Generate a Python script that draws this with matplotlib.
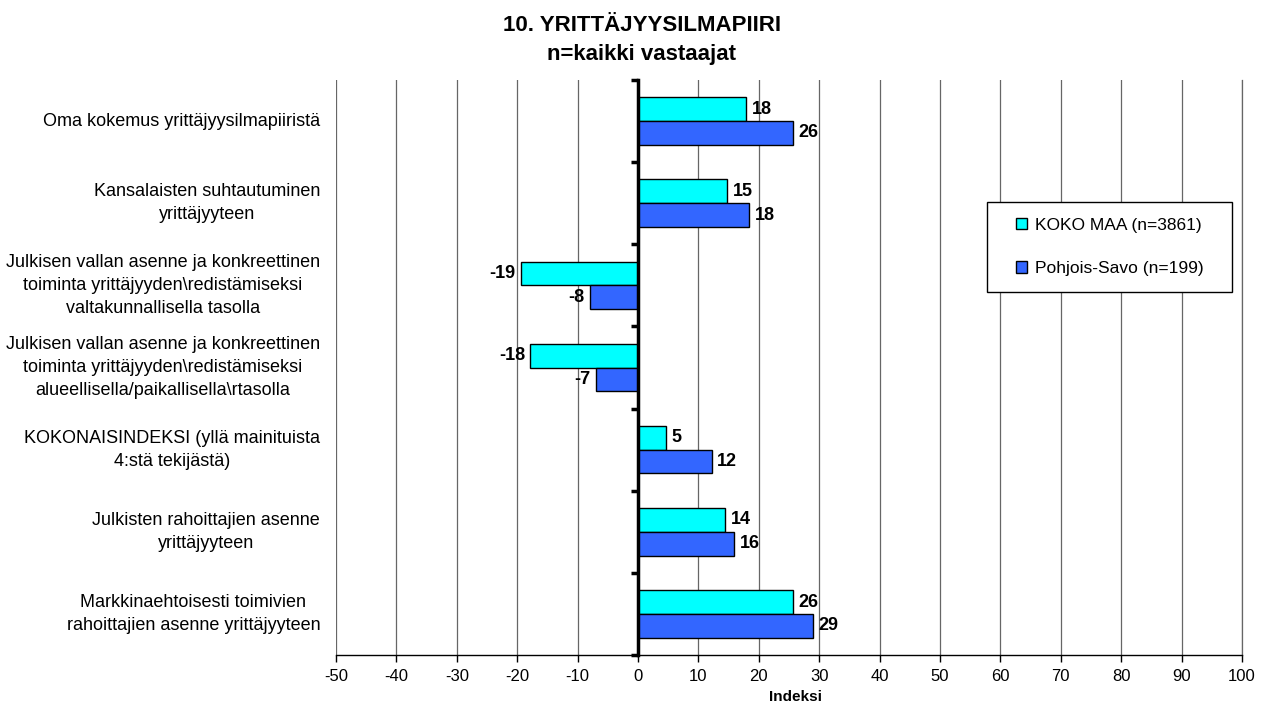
import matplotlib
matplotlib.use("Agg")
import matplotlib.pyplot as plt
import matplotlib.transforms as mtransforms
from matplotlib.patches import Rectangle
import numpy as np

plt.rcParams['font.family'] = ['Liberation Sans', 'DejaVu Sans']

categories = [
    "Oma kokemus yrittäjyysilmapiiristä",
    "Kansalaisten suhtautuminen\nyrittäjyyteen",
    "Julkisen vallan asenne ja konkreettinen\ntoiminta yrittäjyyden\\redistämiseksi\nvaltakunnallisella tasolla",
    "Julkisen vallan asenne ja konkreettinen\ntoiminta yrittäjyyden\\redistämiseksi\nalueellisella/paikallisella\\rtasolla",
    "KOKONAISINDEKSI (yllä mainituista\n4:stä tekijästä)",
    "Julkisten rahoittajien asenne\nyrittäjyyteen",
    "Markkinaehtoisesti toimivien\nrahoittajien asenne yrittäjyyteen",
]
koko_maa = [17.9, 14.8, -19.3, -17.8, 4.7, 14.4, 25.6]
pohjois_savo = [25.6, 18.4, -7.9, -6.9, 12.2, 15.9, 28.9]
series_names = ["KOKO MAA (n=3861)", "Pohjois-Savo (n=199)"]
x_ticks = list(range(-50, 101, 10))

fig = plt.figure(figsize=(12.66, 7.05), dpi=100)
ax = fig.add_axes([0.2654, 0.0709, 0.7156, 0.8156])

n = len(categories)
y = np.arange(n)
h = 0.29
b1 = ax.barh(y - h / 2, koko_maa, height=h, color='#00FFFF', edgecolor='black', linewidth=1,
             label=series_names[0], zorder=3)
b2 = ax.barh(y + h / 2, pohjois_savo, height=h, color='#3366FF', edgecolor='black', linewidth=1,
             label=series_names[1], zorder=3)

for bars in (b1, b2):
    for r in bars:
        v = r.get_width()
        yc = r.get_y() + r.get_height() / 2
        off = 4 if v >= 0 else -4
        ax.annotate('%.0f' % v, (v, yc), xytext=(off, 0), textcoords='offset points',
                    ha='left' if v >= 0 else 'right', va='center',
                    fontsize=13, fontweight='bold', zorder=4)

ax.set_xlim(-50, 100)
ax.set_ylim(n - 0.5, -0.5)
ax.set_xticks(x_ticks)
ax.set_xticklabels([str(t) for t in x_ticks], fontsize=12)
ax.tick_params(axis='x', direction='out', length=5, width=1, pad=5)

ax.grid(axis='x', color='#666666', linewidth=0.9, zorder=0)
ax.set_axisbelow(True)

# y axis at zero with ticks between categories
ax.spines['left'].set_position(('data', 0))
ax.spines['left'].set_linewidth(2.5)
ax.spines['left'].set_zorder(5)
ax.set_yticks(np.arange(-0.5, n, 1.0))
ax.set_yticklabels([])
ax.tick_params(axis='y', direction='out', length=5, width=2.5)
ax.spines['top'].set_visible(False)
ax.spines['right'].set_color('#666666')
ax.spines['right'].set_linewidth(0.9)
ax.spines['bottom'].set_linewidth(1)

trans = mtransforms.blended_transform_factory(ax.transAxes, ax.transData)
for i, lab in enumerate(categories):
    ax.text(-0.0175, i, lab, transform=trans, ha='right', va='center',
            multialignment='center', fontsize=13, linespacing=1.45)

# legend box
ax.add_patch(Rectangle((0.7185, 0.631), 0.2705, 0.157, transform=ax.transAxes,
                       facecolor='white', edgecolor='black', linewidth=1, zorder=6))
leg = ax.legend(loc='center', bbox_to_anchor=(0.8537, 0.7096), fontsize=12.5,
                frameon=False, handlelength=0.65, handleheight=0.65, labelspacing=1.65,
                handletextpad=0.45, borderaxespad=0)
leg.set_zorder(7)

fig.text(0.507, 0.956, "10. YRITTÄJYYSILMAPIIRI", ha='center', va='baseline',
         fontsize=16, fontweight='bold')
fig.text(0.507, 0.915, "n=kaikki vastaajat", ha='center', va='baseline',
         fontsize=16, fontweight='bold')
fig.text(0.628, 0.006, "Indeksi", ha='center', va='baseline',
         fontsize=11, fontweight='bold')

fig.savefig("out.png", dpi=100)
